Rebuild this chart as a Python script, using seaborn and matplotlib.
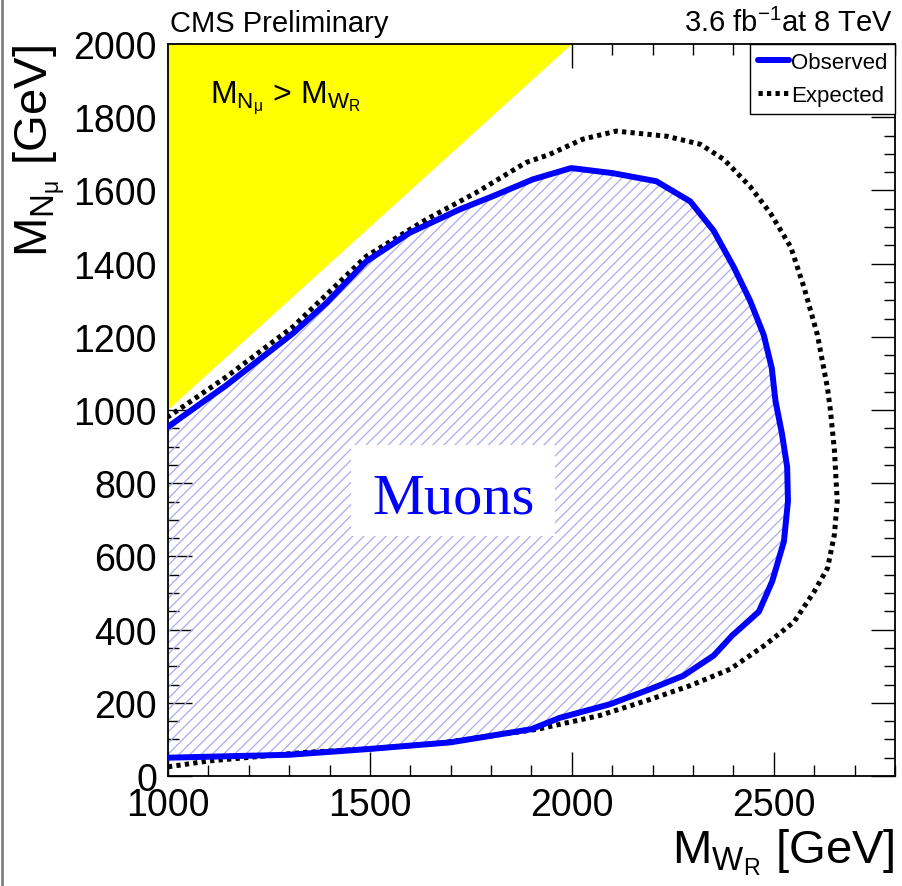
import numpy as np
import pandas as pd
import matplotlib
matplotlib.use("Agg")
import matplotlib.pyplot as plt
from matplotlib.lines import Line2D
from matplotlib.ticker import MultipleLocator
import seaborn as sns

# Observed exclusion contour (M_WR, M_N) in GeV, traced clockwise from the lower-left edge
obs_mw = [1000, 1300, 1500, 1700, 1900, 1970, 2094, 2193, 2276, 2351, 2397, 2463, 2496,
          2525, 2535, 2533, 2520, 2504, 2495, 2475, 2441, 2401, 2351, 2293, 2209, 2102,
          1998, 1903, 1804, 1722, 1598, 1491, 1392, 1310, 1145, 1000]
obs_mn = [50, 58, 74, 92, 128, 159, 196, 237, 274, 329, 384, 449, 532,
          641, 751, 844, 936, 1025, 1114, 1205, 1299, 1390, 1490, 1570, 1625, 1647,
          1661, 1630, 1584, 1548, 1484, 1406, 1292, 1210, 1068, 954]

# Expected exclusion contour
exp_mw = [1000, 1100, 1333, 1500, 1683, 1916, 2068, 2193, 2293, 2392, 2476, 2550, 2600,
          2633, 2650, 2657, 2650, 2640, 2633, 2608, 2575, 2542, 2492, 2441, 2376, 2318,
          2235, 2110, 2027, 1944, 1886, 1763, 1640, 1491, 1310, 1145, 1000]
exp_mn = [25, 41, 64, 74, 91, 128, 165, 209, 247, 292, 356, 421, 504,
          568, 660, 751, 890, 1000, 1059, 1205, 1334, 1445, 1537, 1611, 1685, 1726,
          1748, 1762, 1740, 1698, 1676, 1594, 1521, 1420, 1228, 1091, 981]

# Kinematically forbidden region M_N > M_WR
forbid_mw = [1000, 1000, 2000]
forbid_mn = [1000, 2000, 2000]

x_ticks = [1000, 1500, 2000, 2500]
y_ticks = [0, 200, 400, 600, 800, 1000, 1200, 1400, 1600, 1800, 2000]

sns.set_theme(style="white")
plt.rcParams["font.family"] = ["Liberation Sans", "DejaVu Sans"]
plt.rcParams["mathtext.fontset"] = "custom"
plt.rcParams["mathtext.rm"] = "Liberation Sans"
plt.rcParams["mathtext.it"] = "Liberation Sans:italic"
plt.rcParams["mathtext.sf"] = "Liberation Sans"
plt.rcParams["hatch.linewidth"] = 0.9
for key in ["text.color", "axes.labelcolor", "xtick.color", "ytick.color"]:
    plt.rcParams[key] = "black"

fig = plt.figure(figsize=(9.03, 8.87), dpi=100)
ax = fig.add_axes([168 / 903, 1 - 777 / 887, 727 / 903, 732 / 887])
ax.set_facecolor("white")

obs = pd.DataFrame({"mw": obs_mw, "mn": obs_mn})
exp = pd.DataFrame({"mw": exp_mw, "mn": exp_mn})

# yellow forbidden triangle
ax.fill(forbid_mw, forbid_mn, color="#ffff00", lw=0, zorder=1)

# hatched observed exclusion area
ax.fill(obs["mw"], obs["mn"], facecolor="none", edgecolor="#a9abf0",
        hatch="///", lw=0, zorder=2)

sns.lineplot(data=exp, x="mw", y="mn", sort=False, estimator=None, ax=ax,
             color="black", lw=3.6, zorder=4)
ax.lines[-1].set_dashes((0.85, 0.85))
ax.lines[-1].set_dash_capstyle("butt")
sns.lineplot(data=obs, x="mw", y="mn", sort=False, estimator=None, ax=ax,
             color="#0000ff", lw=4.3, zorder=5)

ax.set_xlim(1000, 2800)
ax.set_ylim(0, 2000)
ax.set_xticks(x_ticks)
ax.set_yticks(y_ticks)
ax.xaxis.set_minor_locator(MultipleLocator(100))
ax.yaxis.set_minor_locator(MultipleLocator(50))
ax.tick_params(which="both", direction="in", top=True, right=True,
               bottom=True, left=True, color="black", width=1.0)
ax.tick_params(which="major", length=17, labelsize=27, pad=8)
ax.tick_params(which="minor", length=8)
for s in ax.spines.values():
    s.set_color("black")
    s.set_linewidth(1.3)

ax.set_xlabel(r"M$_{\mathregular{W_{R}}}$ [GeV]", fontsize=34, loc="right", labelpad=2)
ax.set_ylabel(r"M$_{\mathregular{N_{\mu}}}$ [GeV]", fontsize=34, loc="top", labelpad=4)

# text box in the excluded region
ax.add_patch(plt.Rectangle((1454, 655), 505, 249, facecolor="white",
                           edgecolor="none", zorder=5.5))
ax.text(1706, 720, "Muons", fontsize=42, color="#0000ff", ha="center", va="baseline",
        family=["Liberation Serif", "DejaVu Serif"], zorder=6)

ax.text(1104, 1841, r"M$_{\mathregular{N_{\mu}}}$ > M$_{\mathregular{W_{R}}}$",
        fontsize=23, color="black", ha="left", va="baseline", zorder=6)

handles = [Line2D([], [], color="#0000ff", lw=4.3),
           Line2D([], [], color="black", lw=3.6, dashes=(0.85, 0.85), dash_capstyle="butt")]
leg = ax.legend(handles, ["Observed", "Expected"], loc="upper right",
                bbox_to_anchor=(1.0, 1.0), borderaxespad=0, fontsize=16,
                frameon=True, fancybox=False, framealpha=1, edgecolor="black",
                handlelength=1.4, handletextpad=0.1, borderpad=0.35,
                labelspacing=0.55)
leg.get_frame().set_linewidth(1.0)
leg.set_zorder(10)

fig.text(170 / 903, 1 - 32 / 887, "CMS Preliminary", fontsize=21, ha="left", va="baseline")
fig.text(893 / 903, 1 - 32 / 887, r"3.6 fb$^{\mathregular{-1}}$at 8 TeV", fontsize=21,
         ha="right", va="baseline")

fig.add_artist(Line2D([0.002, 0.002], [0, 1], transform=fig.transFigure,
                      color="#808080", lw=2))

fig.savefig("out.png", dpi=100, facecolor="white")
